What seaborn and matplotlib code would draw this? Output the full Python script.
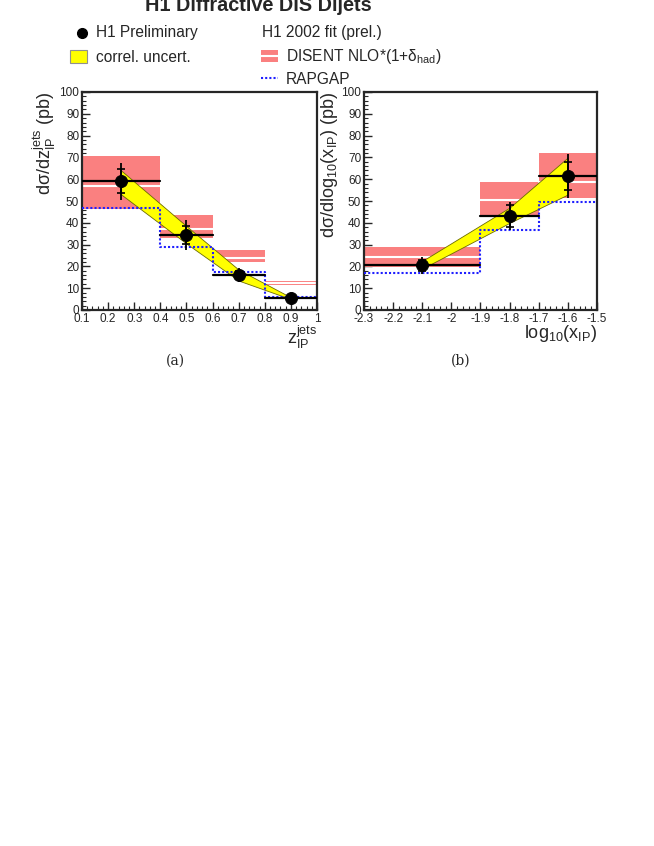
import numpy as np
import matplotlib
matplotlib.use("Agg")
import matplotlib.pyplot as plt
import seaborn as sns
import pandas as pd
from matplotlib.patches import Rectangle
from matplotlib.lines import Line2D
from matplotlib.ticker import MultipleLocator

sns.set_style("ticks")
plt.rcParams['font.family'] = ['Liberation Sans', 'DejaVu Sans']
plt.rcParams['mathtext.fontset'] = 'custom'
plt.rcParams['mathtext.rm'] = 'Liberation Sans'
plt.rcParams['mathtext.it'] = 'Liberation Sans:italic'

# ---- panel (a): z_IP^jets ----
za_edges = [0.1, 0.4, 0.6, 0.8, 1.0]
za_x = [0.25, 0.5, 0.7, 0.9]
za_y = [59, 34.5, 16, 5.5]
za_stat = [5.5, 4.2, 2.0, 0.5]
za_tot = [8.5, 6.8, 3.2, 0.8]
za_nlo_lo = [46.5, 33, 22, 11.5]
za_nlo_hi = [70.5, 43.5, 27.5, 13.5]
za_nlo_c = [57, 37, 24, 12.5]
za_rap = [47, 29, 17.5, 6]
za_corr_lo = [53, 30.5, 13.5, 5]
za_corr_hi = [64, 38.5, 18.5, 5.8]
za_ticklabels = ['0.1', '0.2', '0.3', '0.4', '0.5', '0.6', '0.7', '0.8', '0.9', '1']

# ---- panel (b): log10(x_IP) ----
xb_edges = [-2.3, -1.9, -1.7, -1.5]
xb_x = [-2.1, -1.8, -1.6]
xb_y = [20.5, 43, 61.5]
xb_stat = [2.5, 5, 6.5]
xb_tot = [3.8, 6.5, 10]
xb_nlo_lo = [19.7, 43.5, 51.3]
xb_nlo_hi = [28.7, 58.5, 71.8]
xb_nlo_c = [24.2, 50.4, 58.8]
xb_rap = [17.2, 36.6, 49.5]
xb_corr_lo = [19, 40, 53]
xb_corr_hi = [22.5, 47, 70]
xb_ticklabels = ['-2.3', '-2.2', '-2.1', '-2', '-1.9', '-1.8', '-1.7', '-1.6', '-1.5']

RED = '#fa8080'
YEL = '#ffff00'
BLUE = '#1f1fff'

W, H = 654, 846
fig = plt.figure(figsize=(W / 100, H / 100), dpi=100)


def px(x, y):
    return x / W, 1 - y / H


def panel(ax, edges, xs, ys, stat, tot, nlo_lo, nlo_hi, nlo_c, rap, c_lo, c_hi):
    # DISENT NLO bands
    for i in range(len(xs)):
        ax.fill_between([edges[i], edges[i + 1]], nlo_lo[i], nlo_hi[i],
                        color=RED, lw=0, zorder=1)
        ax.plot([edges[i], edges[i + 1]], [nlo_c[i], nlo_c[i]],
                color='white', lw=1.5, zorder=1.5)
    # correlated uncertainty band
    ax.fill_between(xs, c_lo, c_hi, facecolor=YEL, edgecolor='#6b6b00',
                    lw=0.6, zorder=2)
    # RAPGAP histogram
    rap_df = pd.DataFrame({'x': edges, 'y': list(rap) + [rap[-1]]})
    sns.lineplot(data=rap_df, x='x', y='y', drawstyle='steps-post',
                 color=BLUE, lw=1.5, ls=(0, (1, 1)), ax=ax, zorder=3)
    # data: bin widths
    for i in range(len(xs)):
        ax.plot([edges[i], edges[i + 1]], [ys[i], ys[i]], color='black',
                lw=1.6, zorder=4)
    ax.errorbar(xs, ys, yerr=tot, fmt='none', ecolor='black', elinewidth=1.3,
                capsize=0, zorder=4)
    ax.errorbar(xs, ys, yerr=stat, fmt='none', ecolor='black', elinewidth=1.3,
                capsize=3, capthick=1.2, zorder=4)
    pts = pd.DataFrame({'x': xs, 'y': ys})
    sns.scatterplot(data=pts, x='x', y='y', color='black', s=75,
                    edgecolor='black', ax=ax, zorder=5)

    ax.set_xlim(edges[0], edges[-1])
    ax.set_ylim(0, 100)
    ax.yaxis.set_major_locator(MultipleLocator(10))
    ax.yaxis.set_minor_locator(MultipleLocator(2))
    ax.xaxis.set_minor_locator(MultipleLocator(0.02))
    ax.tick_params(which='major', direction='in', length=6, width=1,
                   labelsize=8.5, pad=2)
    ax.tick_params(which='minor', direction='in', length=3, width=0.8)
    for s in ax.spines.values():
        s.set_linewidth(1.6)
    # the "0" y label sits a bit higher, ROOT style
    ax.yaxis.get_major_ticks()[0].label1.set_verticalalignment('bottom')


ax1 = fig.add_axes([82 / W, 1 - 310 / H, 235 / W, 218 / H])
ax1.set_xticks(np.round(np.arange(0.1, 1.01, 0.1), 1))
ax1.set_xticklabels(za_ticklabels)
panel(ax1, za_edges, za_x, za_y, za_stat, za_tot, za_nlo_lo, za_nlo_hi,
      za_nlo_c, za_rap, za_corr_lo, za_corr_hi)
ax1.set_ylabel(r'dσ/dz$_{\mathrm{IP}}^{\mathrm{jets}}$ (pb)', fontsize=13,
               loc='top', labelpad=1)
ax1.set_xlabel(r'z$_{\mathrm{IP}}^{\mathrm{jets}}$', fontsize=13, loc='right',
               labelpad=-1)

ax2 = fig.add_axes([364 / W, 1 - 310 / H, 233 / W, 218 / H])
ax2.set_xticks(np.round(np.arange(-2.3, -1.49, 0.1), 1))
ax2.set_xticklabels(xb_ticklabels)
panel(ax2, xb_edges, xb_x, xb_y, xb_stat, xb_tot, xb_nlo_lo, xb_nlo_hi,
      xb_nlo_c, xb_rap, xb_corr_lo, xb_corr_hi)
ax2.set_ylabel(r'dσ/dlog$_{10}$(x$_{\mathrm{IP}}$) (pb)', fontsize=13,
               loc='top', labelpad=1)
ax2.set_xlabel(r'log$_{10}$(x$_{\mathrm{IP}}$)', fontsize=13, loc='right',
               labelpad=-1)

# sub-captions
fig.text(*px(175, 361), '(a)', family='DejaVu Serif', fontsize=10,
         ha='center', va='center')
fig.text(*px(461, 361), '(b)', family='DejaVu Serif', fontsize=10,
         ha='center', va='center')

# title (partly cut at the top, as in the original)
fig.text(*px(258, 11), 'H1 Diffractive DIS Dijets', fontsize=14.3,
         fontweight='bold', ha='center', va='baseline')

# legend
fs = 11.2
fig.add_artist(Line2D([82 / W], [1 - 33 / H], marker='o', color='black',
                      markersize=7, transform=fig.transFigure))
fig.text(*px(96, 33), 'H1 Preliminary', fontsize=fs, va='center')
fig.add_artist(Rectangle(px(70, 63), 17 / W, 13 / H, facecolor=YEL,
                         edgecolor='#909090', lw=0.8, transform=fig.transFigure))
fig.text(*px(96, 57), 'correl. uncert.', fontsize=fs, va='center')
fig.text(*px(262, 33), 'H1 2002 fit (prel.)', fontsize=fs, va='center')
fig.add_artist(Rectangle(px(261, 62), 17 / W, 12 / H, facecolor=RED,
                         edgecolor='none', transform=fig.transFigure))
fig.add_artist(Line2D([261 / W, 278 / W], [1 - 56 / H, 1 - 56 / H],
                      color='white', lw=1.5, transform=fig.transFigure))
fig.text(*px(286, 57), r'DISENT NLO*(1+δ$_{\mathrm{had}}$)', fontsize=fs,
         va='center')
fig.add_artist(Line2D([261 / W, 278 / W], [1 - 78 / H, 1 - 78 / H],
                      color=BLUE, lw=1.5, ls=(0, (1, 1)),
                      transform=fig.transFigure))
fig.text(*px(286, 79), 'RAPGAP', fontsize=fs, va='center')

fig.savefig('out.png', dpi=100)
plt.close(fig)
